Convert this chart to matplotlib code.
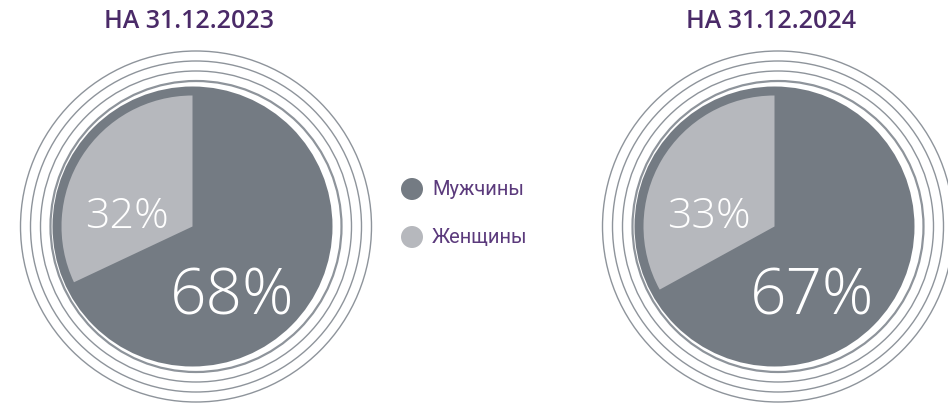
import matplotlib
matplotlib.use("Agg")
import matplotlib.pyplot as plt
from matplotlib.patches import Circle

# ---- data ----
categories = ["Мужчины", "Женщины"]
titles = ["НА 31.12.2023", "НА 31.12.2024"]
men_share = [68, 67]
women_share = [32, 33]

# ---- style ----
W, H = 948, 410
col_men = "#747b83"
col_women = "#b6b8bd"
col_ring = "#8e949b"
col_title = "#4a2a68"
col_legend = "#5b3a7c"

plt.rcParams["font.family"] = ["Roboto", "DejaVu Sans"]

fig = plt.figure(figsize=(W / 100, H / 100), dpi=100)
ax = fig.add_axes([0, 0, 1, 1])

centers_x = [192.5, 774.5]
cy = H - 227.5
pct_font = ["Open Sans", "DejaVu Sans"]

for i in range(2):
    cx = centers_x[i]
    # concentric outer rings
    for k, r in enumerate([145.5, 155.5, 165.5, 175.5]):
        ax.add_patch(Circle((cx + 3.5, cy), r, fill=False, ec=col_ring,
                            lw=1.6 if k == 0 else 1.0, zorder=1))
    # dark base disk
    ax.add_patch(Circle((cx, cy), 140, fc=col_men, ec="none", zorder=2))
    # pie (men clockwise from top, women the rest)
    wedges, _ = ax.pie([men_share[i], women_share[i]], colors=[col_men, col_women],
                       startangle=90, counterclock=False, radius=131,
                       center=(cx, cy), wedgeprops=dict(linewidth=0))
    for w in wedges:
        w.set_zorder(3)
    # labels
    ax.text(cx + 40 + (0 if i == 0 else -2), cy - 71, f"{men_share[i]}%", color="white",
            fontsize=46, fontweight="light", family=pct_font,
            ha="center", va="center", zorder=4)
    ax.text(cx - 66, cy + 11, f"{women_share[i]}%", color="white",
            fontsize=31, fontweight="light", family=pct_font,
            ha="center", va="center", zorder=4)
    # title
    ax.text(cx - 3, H - 22, titles[i], color=col_title, fontsize=18,
            fontweight="semibold", family=["Open Sans", "DejaVu Sans"],
            ha="center", va="center")

# legend
leg_cols = [col_men, col_women]
for j, name in enumerate(categories):
    y = H - (190 + 48 * j)
    ax.add_patch(Circle((412, y), 11, fc=leg_cols[j], ec="none"))
    ax.text(432, y, name, color=col_legend, fontsize=14.5, ha="left", va="center")

ax.set_xlim(0, W)
ax.set_ylim(0, H)
ax.set_aspect("auto")
ax.axis("off")

fig.savefig("out.png", dpi=100, facecolor="white")
